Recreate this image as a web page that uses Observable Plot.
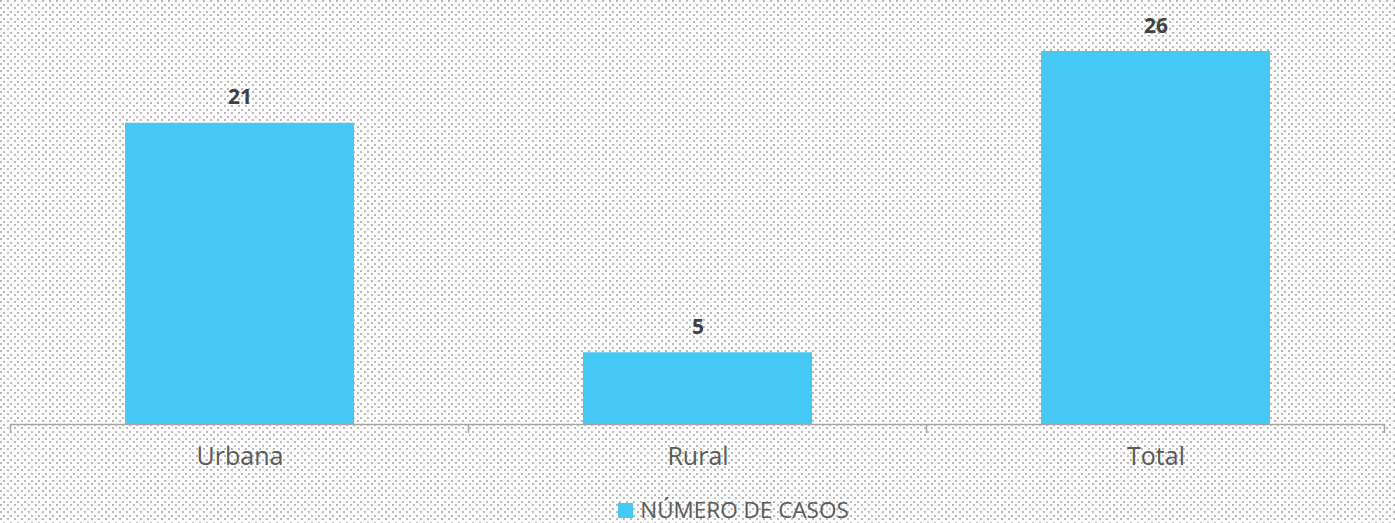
<!DOCTYPE html>
<html><head><meta charset="utf-8">
<script src="https://cdn.jsdelivr.net/npm/d3@7"></script>
<script src="https://cdn.jsdelivr.net/npm/@observablehq/plot@0.6"></script>
<style>
html,body{margin:0;padding:0;}
body{width:1395px;height:523px;overflow:hidden;background-color:#fff;
background-image:url("data:image/svg+xml,%3Csvg xmlns='http://www.w3.org/2000/svg' width='7' height='7'%3E%3Crect x='0' y='0' width='2' height='2' fill='%23b8b8b8'/%3E%3Crect x='3' y='4' width='2' height='2' fill='%23b8b8b8'/%3E%3C/svg%3E");
font-family:"Open Sans",sans-serif;}
#legend{display:flex;justify-content:center;align-items:center;height:40px;padding-left:72px;box-sizing:border-box;}
#legend .sw{width:15px;height:15px;margin-right:7px;}
#legend .lb{font-size:22.5px;color:#595959;line-height:1;}
</style></head><body>
<div id="chart"></div>
<div id="legend"></div>
<script>
const categories = ["Urbana", "Rural", "Total"];
const values = [21, 5, 26];
const seriesName = "NÚMERO DE CASOS";
const barColor = "#46C8F4";

const data = categories.map((c, i) => ({cat: c, value: values[i]}));

const plot = Plot.plot({
  width: 1395,
  height: 490,
  marginLeft: 10,
  marginRight: 10,
  marginTop: 51,
  marginBottom: 66,
  style: {background: "transparent", fontFamily: "'Open Sans', sans-serif", color: "#595959", overflow: "visible"},
  x: {domain: categories, paddingInner: 0.5, paddingOuter: 0.25, label: null},
  y: {domain: [0, 26], nice: false, axis: null},
  marks: [
    Plot.barY(data, {x: "cat", y: "value", fill: barColor}),
    Plot.ruleY([0], {stroke: "#a6a6a6", strokeWidth: 1.5}),
    Plot.text(data, {x: "cat", y: "value", text: d => String(d.value), lineAnchor: "bottom", dy: -19, fontSize: 21, fontWeight: 700, fill: "#404040"}),
    Plot.axisX({tickSize: 0, tickPadding: 23, fontSize: 25, fill: "#595959", label: null})
  ]
});
document.getElementById("chart").appendChild(plot);

// boundary ticks between categories, derived from the band scale
const xs = plot.scale("x");
const ys = plot.scale("y");
const gap = xs.step - xs.bandwidth;
const bounds = categories.map(c => xs.apply(c) - gap / 2);
bounds.push(xs.apply(categories[categories.length - 1]) + xs.bandwidth + gap / 2);
const y0 = ys.apply(0);
d3.select(plot).append("g")
  .selectAll("line").data(bounds).join("line")
  .attr("x1", d => d).attr("x2", d => d)
  .attr("y1", y0).attr("y2", y0 + 9)
  .attr("stroke", "#a6a6a6").attr("stroke-width", 1.5);

const lg = document.getElementById("legend");
lg.innerHTML = `<div class="sw" style="background:${barColor}"></div><div class="lb">${seriesName}</div>`;
</script>
</body></html>
